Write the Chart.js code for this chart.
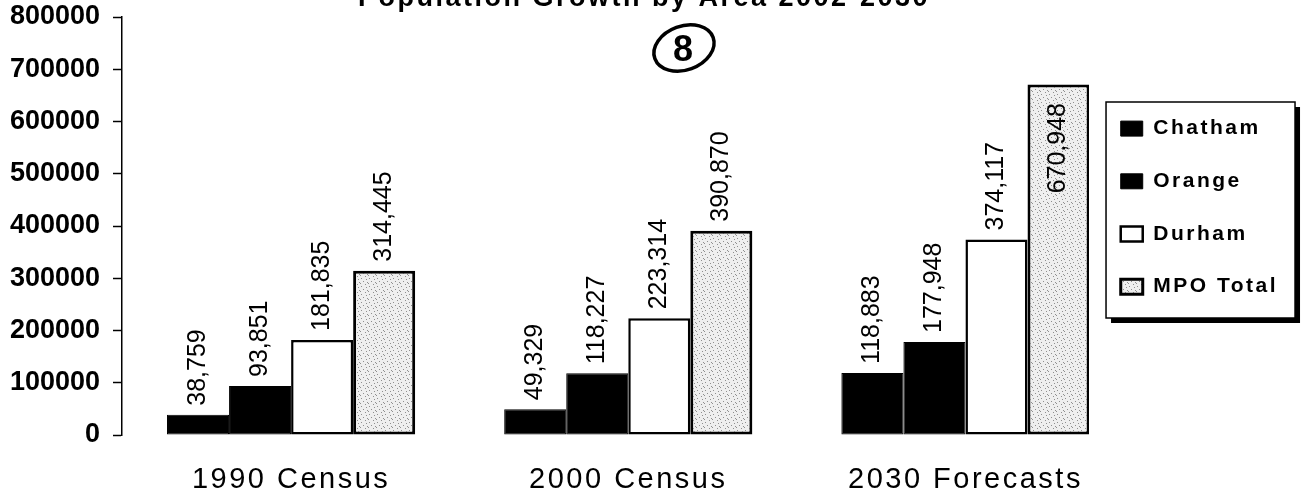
<!DOCTYPE html>
<html>
<head>
<meta charset="utf-8">
<script src="https://cdn.jsdelivr.net/npm/chart.js@4.4.1/dist/chart.umd.min.js"></script>
<style>
  html, body { margin: 0; padding: 0; background: #fff; overflow: hidden; }
  #wrap { position: absolute; left: 0; top: -20px; width: 1303px; height: 520px; }
</style>
</head>
<body>
<div id="wrap"><canvas id="popChart" width="1303" height="520"></canvas></div>
<script>
// data
const categories = ['1990 Census', '2000 Census', '2030 Forecasts'];
const chatham = [38759, 49329, 118883];
const orange = [93851, 118227, 177948];
const durham = [181835, 223314, 374117];
const mpoTotal = [314445, 390870, 670948];
const yTickLabels = ['0', '100000', '200000', '300000', '400000', '500000', '600000', '700000', '800000'];

Chart.defaults.font.family = '"Liberation Sans", Arial, sans-serif';
Chart.defaults.color = '#000';

// speckled grey fill for the MPO bars
function makeSpeckle() {
    const c = document.createElement('canvas');
    c.width = 8; c.height = 8;
    const g = c.getContext('2d');
    g.fillStyle = '#efefef';
    g.fillRect(0, 0, 8, 8);
    g.fillStyle = '#909090';
    [[1, 2], [5, 0], [3, 5], [7, 6], [0, 7], [6, 3]].forEach(function(p) { g.fillRect(p[0], p[1], 1, 1); });
    return g.createPattern(c, 'repeat');
}

function toPoints(arr) {
    return arr.map(function(v, i) { return { x: i, y: v }; });
}

// wide letter spacing for title, legend and category labels
const spacingPlugin = {
    id: 'spacing',
    beforeLayout(chart) { chart.ctx.letterSpacing = '2.5px'; },
    beforeDraw(chart) { chart.ctx.letterSpacing = '2.5px'; }
};

// framed legend with a drop shadow
const legendFrame = {
    id: 'legendFrame',
    beforeDraw(chart) {
        const lg = chart.legend;
        const ctx = chart.ctx;
        const x = lg.left + 17, y = lg.top + 85, w = 189, h = 216;
        ctx.save();
        ctx.fillStyle = '#000';
        ctx.fillRect(x + 5, y + 5, w, h);
        ctx.fillStyle = '#fff';
        ctx.fillRect(x, y, w, h);
        ctx.strokeStyle = '#000';
        ctx.lineWidth = 1.5;
        ctx.strokeRect(x, y, w, h);
        ctx.restore();
    }
};

// vertical value labels above the bars
const valueLabels = {
    id: 'valueLabels',
    afterDatasetsDraw(chart) {
        const ctx = chart.ctx;
        const limit = chart.chartArea.top + 86;
        ctx.save();
        ctx.letterSpacing = '0px';
        ctx.font = '25px "Liberation Sans", Arial, sans-serif';
        ctx.fillStyle = '#000';
        ctx.textAlign = 'left';
        ctx.textBaseline = 'middle';
        chart.data.datasets.forEach(function(ds, di) {
            chart.getDatasetMeta(di).data.forEach(function(bar, i) {
                const text = ds.data[i].y.toLocaleString('en-US');
                const w = ctx.measureText(text).width;
                let start = bar.y - 9;
                if (start - w < limit) start = limit + w;
                ctx.save();
                ctx.translate(bar.x, start);
                ctx.rotate(-Math.PI / 2);
                ctx.fillText(text, 0, 0);
                ctx.restore();
            });
        });
        ctx.restore();
        ctx.letterSpacing = '0px';
    }
};

// the hand-written circled 8 on the scan
const penMark = {
    id: 'penMark',
    afterDraw(chart) {
        const ctx = chart.ctx;
        ctx.save();
        ctx.letterSpacing = '0px';
        ctx.strokeStyle = '#000';
        ctx.lineWidth = 3.5;
        ctx.beginPath();
        ctx.ellipse(684, 68, 31, 22, -0.35, 0, Math.PI * 2);
        ctx.stroke();
        ctx.font = 'bold 36px "Liberation Sans", Arial, sans-serif';
        ctx.fillStyle = '#000';
        ctx.textAlign = 'center';
        ctx.textBaseline = 'middle';
        ctx.fillText('8', 683, 71);
        ctx.restore();
    }
};

const speckle = makeSpeckle();
const ctx = document.getElementById('popChart').getContext('2d');
new Chart(ctx, {
    type: 'bar',
    data: {
        datasets: [
            { label: 'Chatham', data: toPoints(chatham), backgroundColor: '#000', borderColor: '#000', borderWidth: 1, borderSkipped: false },
            { label: 'Orange', data: toPoints(orange), backgroundColor: '#000', borderColor: '#000', borderWidth: 1, borderSkipped: false },
            { label: 'Durham', data: toPoints(durham), backgroundColor: '#fff', borderColor: '#000', borderWidth: 2.5, borderSkipped: false },
            { label: 'MPO Total', data: toPoints(mpoTotal), backgroundColor: speckle, borderColor: '#000', borderWidth: 3, borderSkipped: false }
        ]
    },
    options: {
        responsive: false,
        animation: false,
        devicePixelRatio: 1,
        layout: { padding: { left: 0, right: 15, top: 0, bottom: 0 } },
        datasets: { bar: { categoryPercentage: 0.736, barPercentage: 1 } },
        plugins: {
            title: {
                display: true,
                text: 'Population Growth by Area 2002-2030',
                font: { size: 27, weight: 'bold', lineHeight: 0.6 },
                color: '#000',
                padding: { top: 10.5, bottom: 10.3 }
            },
            legend: {
                position: 'right',
                fullSize: false,
                align: 'start',
                title: { display: true, text: ' ', padding: { top: 55, bottom: 0 }, font: { size: 12 } },
                labels: {
                    boxWidth: 22,
                    boxHeight: 15,
                    padding: 31.7,
                    color: '#000',
                    font: { size: 21, weight: 'bold' }
                }
            },
            tooltip: { enabled: false }
        },
        scales: {
            x: {
                type: 'linear',
                min: -0.5015,
                max: 2.3665,
                offset: false,
                grid: { display: false },
                border: { display: false },
                ticks: {
                    stepSize: 1,
                    includeBounds: false,
                    autoSkip: false,
                    maxRotation: 0,
                    padding: 20,
                    color: '#000',
                    font: { size: 29 },
                    callback: function(value) {
                        return Number.isInteger(value) ? categories[value] : '';
                    }
                },
                afterFit: function(scale) { scale.height = 65; }
            },
            y: {
                min: 0,
                max: 800000,
                grid: { drawOnChartArea: false, drawTicks: true, tickLength: 9, tickColor: '#000', tickWidth: 1.5 },
                border: { display: true, color: '#000', width: 1.5 },
                ticks: {
                    stepSize: 100000,
                    padding: 13,
                    z: 1,
                    color: '#000',
                    font: { size: 27, weight: 'bold' },
                    callback: function(value, index) { return yTickLabels[index]; }
                },
                afterFit: function(scale) { scale.width = 122; }
            }
        }
    },
    plugins: [spacingPlugin, legendFrame, valueLabels, penMark]
});
</script>
</body>
</html>
